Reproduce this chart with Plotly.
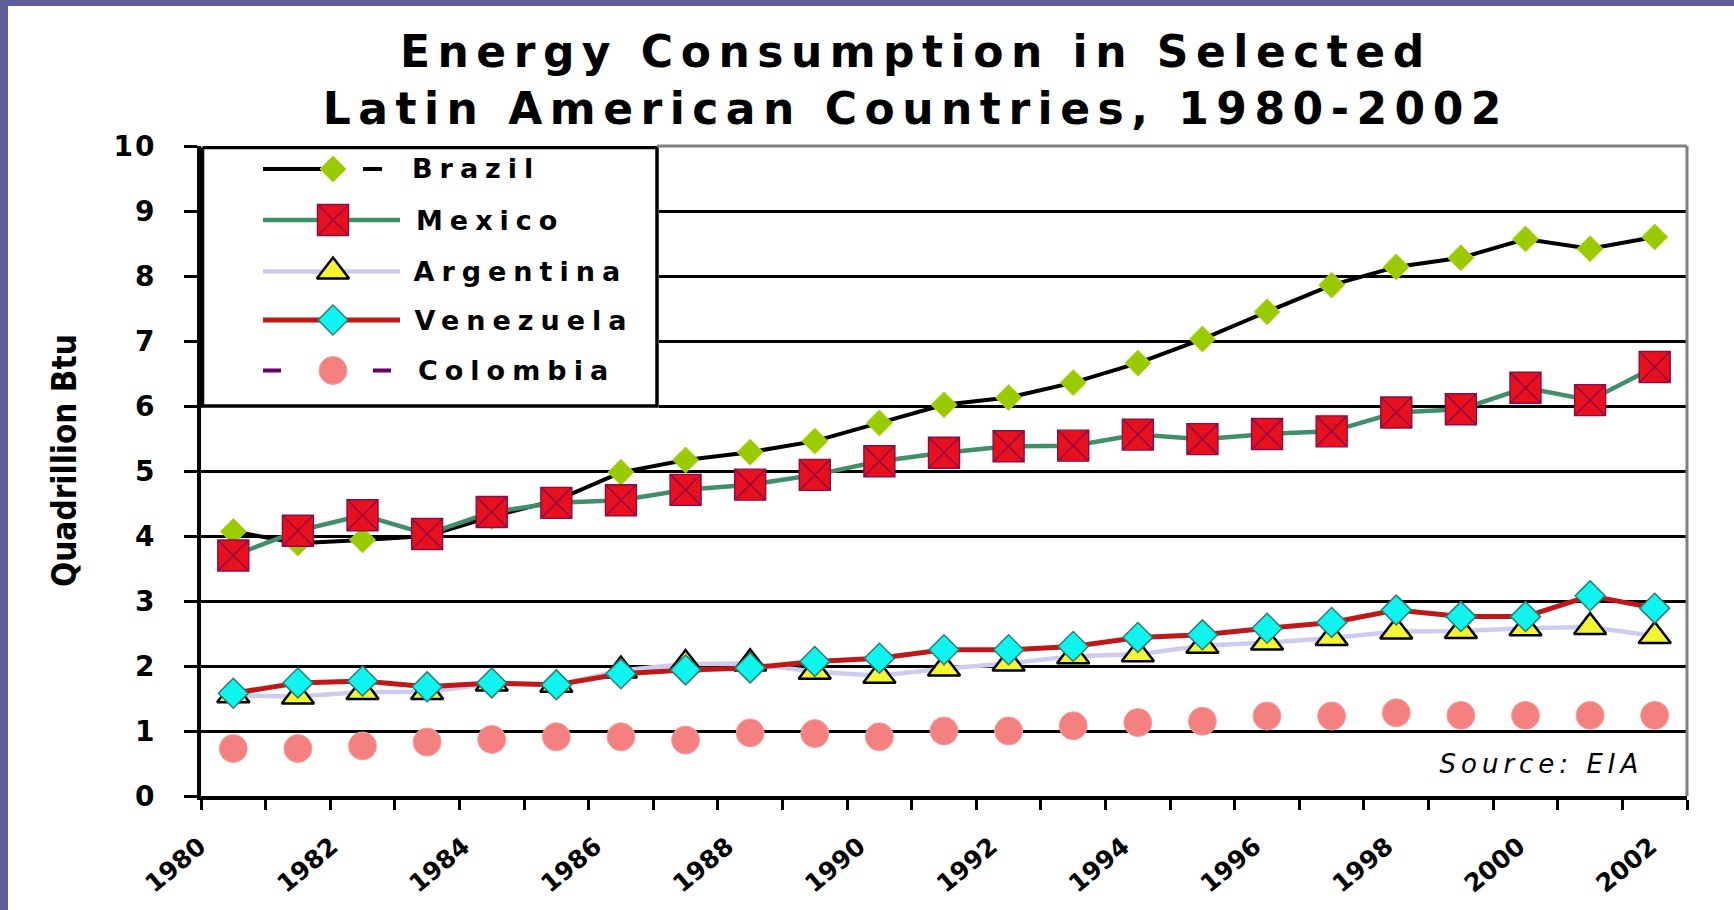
import plotly.graph_objects as go

# ---- data (quadrillion Btu) ----
years = list(range(1980, 2003))
brazil = [4.07, 3.89, 3.94, 4.00, 4.30, 4.55, 4.98, 5.17, 5.29, 5.46, 5.74, 6.02,
          6.13, 6.36, 6.66, 7.03, 7.45, 7.86, 8.14, 8.28, 8.57, 8.42, 8.60]
mexico = [3.70, 4.08, 4.32, 4.03, 4.37, 4.51, 4.55, 4.71, 4.79, 4.94, 5.15, 5.28,
          5.38, 5.39, 5.56, 5.49, 5.57, 5.61, 5.90, 5.95, 6.28, 6.09, 6.60]
argentina = [1.55, 1.53, 1.60, 1.60, 1.73, 1.71, 1.93, 2.03, 2.04, 1.91, 1.85, 1.96,
             2.04, 2.15, 2.18, 2.31, 2.36, 2.43, 2.53, 2.54, 2.58, 2.60, 2.46]
venezuela = [1.58, 1.74, 1.77, 1.68, 1.74, 1.71, 1.88, 1.94, 1.97, 2.07, 2.12, 2.25,
             2.25, 2.30, 2.44, 2.48, 2.58, 2.67, 2.86, 2.76, 2.76, 3.08, 2.89]
colombia = [0.73, 0.73, 0.77, 0.83, 0.87, 0.91, 0.91, 0.86, 0.97, 0.96, 0.91, 1.00,
            1.00, 1.08, 1.13, 1.15, 1.23, 1.23, 1.28, 1.24, 1.24, 1.24, 1.24]

tick_years = years[::2]
tick_text = [str(y) for y in tick_years]
y_ticks = list(range(0, 11))
boundaries = [years[0] - 0.5 + k for k in range(len(years) + 1)]

# ---- page geometry (px) ----
W, H = 1734, 910
L, R, T, B = 201, 1687, 146, 796


def px(x):
    return (x - L) / (R - L)


def py(y):
    return (B - y) / (B - T)


BOLD = dict(family="DejaVu Sans", weight="bold", color="black")

series = [
    ("Brazil", brazil,
     dict(color="black", width=4),
     dict(symbol="diamond", size=20, color="#99cc00", line=dict(color="#b5d820", width=1)),
     "lines+markers"),
    ("Mexico", mexico,
     dict(color="#3f8f6a", width=4.5),
     dict(symbol="square-x", size=31, color="#e8101c", line=dict(color="#8a0c48", width=1.4)),
     "lines+markers"),
    ("Argentina", argentina,
     dict(color="#ccccee", width=4.5),
     dict(symbol="triangle-up", size=28, color="#f4f430", line=dict(color="black", width=2.5)),
     "lines+markers"),
    ("Venezuela", venezuela,
     dict(color="#c01818", width=5),
     dict(symbol="diamond", size=23, color="#10f4f0", line=dict(color="#2a7f72", width=1.5)),
     "lines+markers"),
    ("Colombia", colombia,
     dict(color="#660066", width=4, dash="dash"),
     dict(symbol="circle", size=28, color="#f48080", line=dict(color="#f8a0a0", width=1)),
     "markers"),
]

fig = go.Figure()

for name, vals, line, marker, mode in series:
    fig.add_trace(go.Scatter(
        x=years, y=vals, name=name, mode=mode, line=line, marker=marker,
        showlegend=False, hoverinfo="skip", cliponaxis=False,
    ))

# invisible anchor trace for the year-label axis
fig.add_trace(go.Scatter(
    x=tick_years, y=[0] * len(tick_years), xaxis="x3", yaxis="y", mode="markers",
    marker=dict(opacity=0), showlegend=False, hoverinfo="skip",
))

# ---- hand-built legend box on its own overlay axes (px units) ----
LEG_R, LEG_B = 659, 408
fig.add_trace(go.Scatter(
    x=[202.5, 657, 657, 202.5, 202.5], y=[147.5, 147.5, 406, 406, 147.5],
    mode="lines", fill="toself", fillcolor="white",
    line=dict(color="black", width=3.5),
    xaxis="x2", yaxis="y2", showlegend=False, hoverinfo="skip",
))

row_y = [169, 220, 271.5, 320, 370.5]
sample_x = {
    "Brazil": [263, 322, None, 363, 382],
    "Mexico": [263, 400],
    "Argentina": [263, 400],
    "Venezuela": [263, 400],
    "Colombia": [263, 281, None, 373, 391],
}
label_center = {"Brazil": 476, "Mexico": 490, "Argentina": 520,
                "Venezuela": 524, "Colombia": 516}

annotations = []
for (name, vals, line, marker, mode), ry in zip(series, row_y):
    seg_line = dict(line)
    seg_line.pop("dash", None)
    xs = sample_x[name]
    fig.add_trace(go.Scatter(
        x=xs, y=[None if v is None else ry for v in xs], mode="lines",
        line=seg_line, xaxis="x2", yaxis="y2", showlegend=False, hoverinfo="skip",
    ))
    fig.add_trace(go.Scatter(
        x=[333], y=[ry], mode="markers", marker=marker,
        xaxis="x2", yaxis="y2", showlegend=False, hoverinfo="skip", cliponaxis=False,
    ))
    annotations.append(dict(
        text=name, xref="paper", yref="paper",
        x=px(label_center[name]), y=py(ry), xanchor="center", yanchor="middle",
        showarrow=False, font=dict(BOLD, size=27),
    ))

# title (annotation index 5)
annotations.append(dict(
    text="Energy Consumption in Selected<br>Latin American Countries, 1980-2002",
    xref="paper", yref="paper", x=px(916), y=py(80),
    xanchor="center", yanchor="middle", showarrow=False,
    font=dict(BOLD, size=44),
))
# source note (annotation index 6)
annotations.append(dict(
    text="Source: EIA", xref="paper", yref="paper", x=px(1541), y=py(764),
    xanchor="center", yanchor="middle", showarrow=False,
    font=dict(family="DejaVu Sans", style="italic", size=26, color="black"),
))
# y-axis caption (annotation index 7)
annotations.append(dict(
    text="Quadrillion Btu", xref="paper", yref="paper", x=px(64), y=py(461),
    xanchor="center", yanchor="middle", showarrow=False, textangle=-90,
    font=dict(family="Liberation Sans Narrow, DejaVu Sans Condensed, sans-serif",
              size=33, weight="bold", color="black"),
))

shapes = [
    # grey frame on top and right of the plot area
    dict(type="line", xref="paper", yref="paper", x0=px(657), x1=1, y0=1, y1=1,
         line=dict(color="#808080", width=3), layer="above"),
    dict(type="line", xref="paper", yref="paper", x0=1, x1=1, y0=0, y1=1,
         line=dict(color="#808080", width=3), layer="above"),
    # slide border bands
    dict(type="rect", xref="paper", yref="paper", x0=px(0), x1=px(8), y0=py(H), y1=py(0),
         fillcolor="#5e5e98", line=dict(width=0), layer="above"),
    dict(type="rect", xref="paper", yref="paper", x0=px(0), x1=px(W), y0=py(6), y1=py(0),
         fillcolor="#5e5e98", line=dict(width=0), layer="above"),
]

fig.update_layout(
    width=W, height=H,
    margin=dict(l=L, r=W - R, t=T, b=H - B, pad=0),
    paper_bgcolor="white", plot_bgcolor="white",
    showlegend=False,
    annotations=annotations,
    shapes=shapes,
    xaxis=dict(
        range=[boundaries[0], boundaries[-1]],
        tickmode="array", tickvals=boundaries, showticklabels=False,
        ticks="outside", ticklen=10, tickwidth=2.5, tickcolor="black",
        showgrid=False, zeroline=False,
        showline=True, linecolor="black", linewidth=4,
        fixedrange=True,
    ),
    # year labels sit on a slightly stretched overlay scale
    xaxis3=dict(
        overlaying="x", anchor="y", side="bottom",
        range=[1979.9, 2002.43],
        tickmode="array", tickvals=tick_years, ticktext=tick_text,
        ticks="", tickangle=-40, ticklabelstandoff=30, ticklabelshift=-8,
        tickfont=dict(BOLD, size=25),
        showgrid=False, zeroline=False, showline=False, fixedrange=True,
    ),
    yaxis=dict(
        range=[0, 10], tickmode="array", tickvals=y_ticks,
        ticks="outside", ticklen=13, tickwidth=2.5, tickcolor="black",
        ticklabelstandoff=22,
        tickfont=dict(BOLD, size=28),
        showgrid=True, gridcolor="black", gridwidth=2.8,
        zeroline=False, showline=True, linecolor="black", linewidth=4,
        fixedrange=True,
    ),
    xaxis2=dict(domain=[0, px(LEG_R)], range=[L, LEG_R], visible=False,
                anchor="y2", fixedrange=True),
    yaxis2=dict(domain=[py(LEG_B), 1], range=[LEG_B, T], visible=False,
                anchor="x2", fixedrange=True),
)

# wide letter spacing for the chart's caption texts
post = """
var st = document.createElement('style');
st.textContent = [
  '.annotation-text { letter-spacing: 7px; }',
  '.annotation[data-index="5"] .annotation-text { letter-spacing: 7.5px; }',
  '.annotation[data-index="6"] .annotation-text { letter-spacing: 5px; }',
  '.annotation[data-index="7"] .annotation-text { letter-spacing: 0px; }',
  '.xtick text { letter-spacing: 4px; }',
  '.ytick text { letter-spacing: 2px; }'
].join('\\n');
document.head.appendChild(st);
"""

fig.write_html("out.html", post_script=post, config={"displayModeBar": False})
